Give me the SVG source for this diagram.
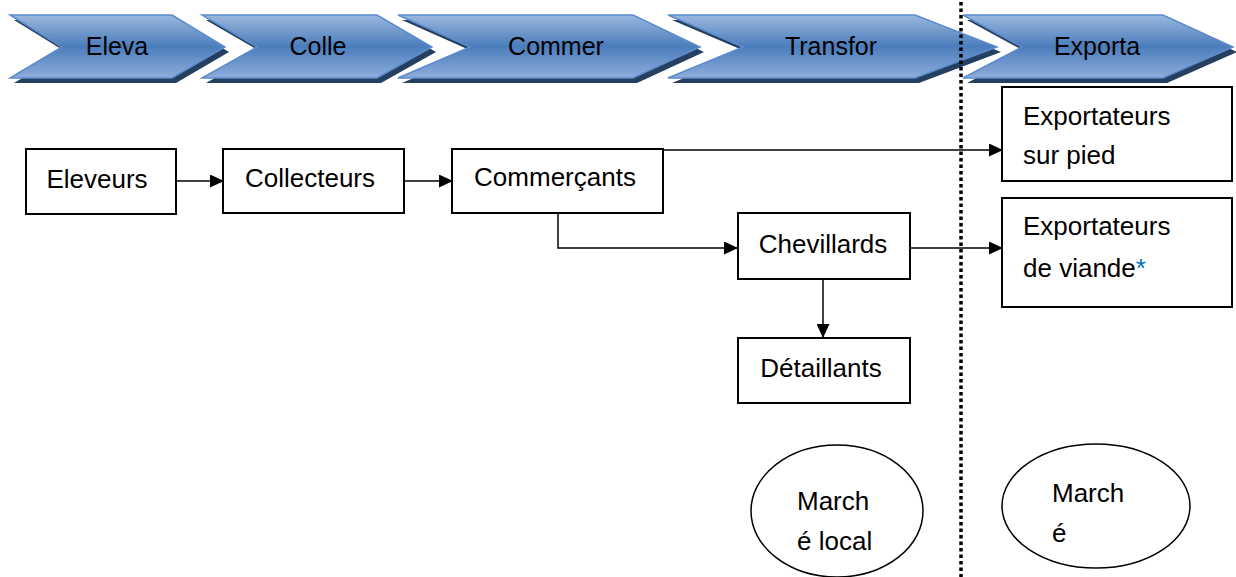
<svg xmlns="http://www.w3.org/2000/svg" width="1236" height="577" viewBox="0 0 1236 577">
<style>
.t{font-family:"Liberation Sans",Arial,sans-serif;font-size:26px;fill:#000}
.c{font-size:25px}
.box{fill:#fff;stroke:#000;stroke-width:2}
.sh{fill:#243f60}
.chev{fill:url(#g);stroke:#5b8ccc;stroke-width:1.5}
.ln{fill:none;stroke:#000;stroke-width:1.5}
</style>
<defs>
<linearGradient id="g" x1="0" y1="0" x2="0" y2="1">
<stop offset="0" stop-color="#9ab8de"/>
<stop offset="0.5" stop-color="#4b7dbc"/>
<stop offset="1" stop-color="#8eaddb"/>
</linearGradient>
<marker id="a" markerWidth="14" markerHeight="13" refX="13" refY="6.5" orient="auto" markerUnits="userSpaceOnUse">
<path d="M0,0 L14,6.5 L0,13 Z" fill="#000"/>
</marker>
</defs>
<rect width="1236" height="577" fill="#fff"/>

<g id="chevrons">
<g id="chev1"><polygon class="sh" points="14,20 176,20 229,52 176,83 14,83 66,52"/><polygon class="chev" points="10,15 172,15 225,47 172,78 10,78 62,47"/><text class="t c" x="117" y="55" text-anchor="middle">Eleva</text></g>
<g id="chev2"><polygon class="sh" points="206,20 381,20 436,52 381,83 206,83 261,52"/><polygon class="chev" points="202,15 377,15 432,47 377,78 202,78 257,47"/><text class="t c" x="318" y="55" text-anchor="middle">Colle</text></g>
<g id="chev3"><polygon class="sh" points="402,20 637,20 704,52 637,83 402,83 474,52"/><polygon class="chev" points="398,15 633,15 700,47 633,78 398,78 470,47"/><text class="t c" x="556" y="55" text-anchor="middle">Commer</text></g>
<g id="chev4"><polygon class="sh" points="672,20 919,20 1001,52 919,83 672,83 747,52"/><polygon class="chev" points="668,15 915,15 997,47 915,78 668,78 743,47"/><text class="t c" x="831" y="55" text-anchor="middle">Transfor</text></g>
<g id="chev5"><polygon class="sh" points="967,20 1167,20 1237,52 1167,83 967,83 1026,52"/><polygon class="chev" points="963,15 1163,15 1233,47 1163,78 963,78 1022,47"/><text class="t c" x="1097" y="55" text-anchor="middle">Exporta</text></g>
</g>

<line x1="961" y1="2" x2="961" y2="577" stroke="#000" stroke-width="3.5" stroke-dasharray="3.5 3"/>

<g id="connectors">
<line class="ln" x1="176" y1="181" x2="223" y2="181" marker-end="url(#a)"/>
<line class="ln" x1="404" y1="181" x2="452" y2="181" marker-end="url(#a)"/>
<line class="ln" x1="663" y1="150" x2="1002" y2="150" marker-end="url(#a)"/>
<path class="ln" d="M558,213 V248 H737" marker-end="url(#a)"/>
<line class="ln" x1="910" y1="248" x2="1002" y2="248" marker-end="url(#a)"/>
<line class="ln" x1="823" y1="279" x2="823" y2="337" marker-end="url(#a)"/>
</g>

<g id="eleveurs"><rect class="box" x="26" y="149" width="150" height="65"/><text class="t" x="97" y="188" text-anchor="middle">Eleveurs</text></g>
<g id="collecteurs"><rect class="box" x="223" y="149" width="181" height="64"/><text class="t" x="310" y="187" text-anchor="middle">Collecteurs</text></g>
<g id="commercants"><rect class="box" x="452" y="149" width="211" height="64"/><text class="t" x="555" y="186" text-anchor="middle">Commerçants</text></g>
<g id="chevillards"><rect class="box" x="738" y="213" width="172" height="66"/><text class="t" x="823" y="253" text-anchor="middle">Chevillards</text></g>
<g id="detaillants"><rect class="box" x="738" y="338" width="172" height="65"/><text class="t" x="821" y="377" text-anchor="middle">Détaillants</text></g>
<g id="exp-pied"><rect class="box" x="1002" y="87" width="230" height="94"/><text class="t" x="1023" y="125">Exportateurs</text><text class="t" x="1023" y="164">sur pied</text></g>
<g id="exp-viande"><rect class="box" x="1002" y="198" width="230" height="109"/><text class="t" x="1023" y="235">Exportateurs</text><text class="t" x="1023" y="277">de viande<tspan fill="#0070c0">*</tspan></text></g>
<g id="marche-local"><ellipse cx="837" cy="511" rx="86" ry="66" fill="#fff" stroke="#000" stroke-width="1.5"/><text class="t" x="797" y="510">March</text><text class="t" x="797" y="550">é local</text></g>
<g id="marche"><ellipse cx="1096" cy="506" rx="94" ry="62" fill="#fff" stroke="#000" stroke-width="1.5"/><text class="t" x="1052" y="502">March</text><text class="t" x="1052" y="542">é</text></g>
</svg>
